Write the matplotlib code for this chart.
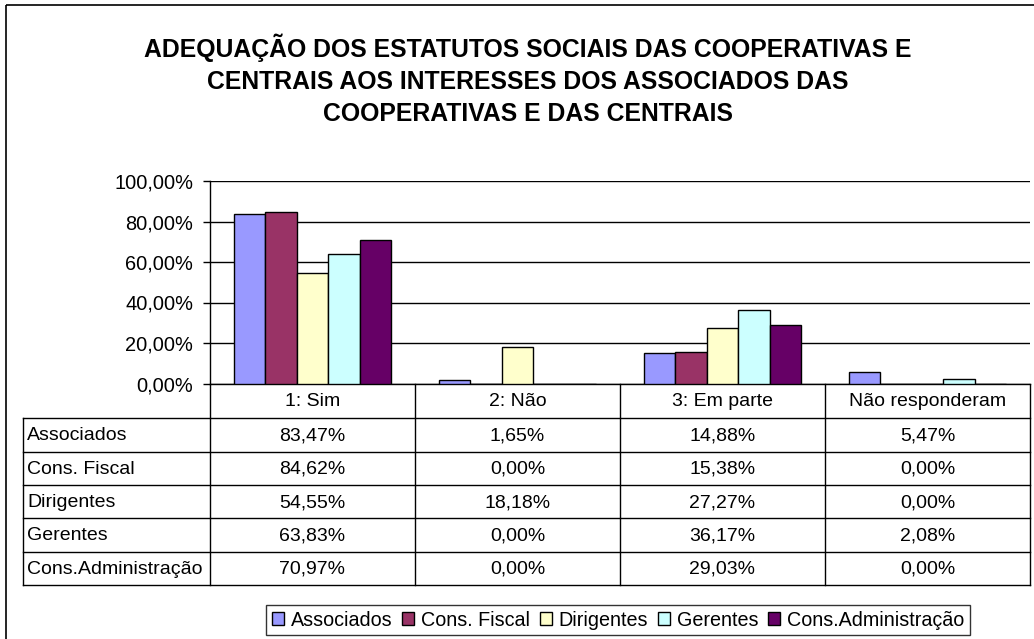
import numpy as np
import matplotlib
matplotlib.use("Agg")
import matplotlib.pyplot as plt
from matplotlib.ticker import FuncFormatter

plt.rcParams['font.family'] = ['Liberation Sans', 'DejaVu Sans']

title = ("ADEQUAÇÃO DOS ESTATUTOS SOCIAIS DAS COOPERATIVAS E\n"
         "CENTRAIS AOS INTERESSES DOS ASSOCIADOS DAS\n"
         "COOPERATIVAS E DAS CENTRAIS")
categories = ["1: Sim", "2: Não", "3: Em parte", "Não responderam"]
series_names = ["Associados", "Cons. Fiscal", "Dirigentes", "Gerentes", "Cons.Administração"]
associados = [83.47, 1.65, 14.88, 5.47]
cons_fiscal = [84.62, 0.00, 15.38, 0.00]
dirigentes = [54.55, 18.18, 27.27, 0.00]
gerentes = [63.83, 0.00, 36.17, 2.08]
cons_admin = [70.97, 0.00, 29.03, 0.00]
series_values = [associados, cons_fiscal, dirigentes, gerentes, cons_admin]
colors = ["#9999FF", "#993366", "#FFFFCC", "#CCFFFF", "#660066"]
yticks = [0, 20, 40, 60, 80, 100]

W, H = 1034, 639
def fx(x): return x / W
def fy(y): return 1 - y / H

def pct(v):
    return f"{v:.2f}%".replace('.', ',')

fig = plt.figure(figsize=(W / 100, H / 100), dpi=100)

# overlay axes in pixel coordinates for border and table
ov = fig.add_axes([0, 0, 1, 1])
ov.set_xlim(0, W)
ov.set_ylim(H, 0)
ov.axis('off')
ov.add_patch(plt.Rectangle((6, 5), W + 20, H + 20, fill=False, edgecolor='black', lw=1.2))

# plot area
x0, x1, ytop, ybot = 210, 1030, 181, 383.5
ax = fig.add_axes([fx(x0), fy(ybot), fx(x1) - fx(x0), fy(ytop) - fy(ybot)])
ax.patch.set_alpha(0)
n = len(series_names)
w = 1 / 6.5
xs = np.arange(len(categories))
handles = []
for i, (name, vals, c) in enumerate(zip(series_names, series_values, colors)):
    b = ax.bar(xs + (i - (n - 1) / 2) * w, vals, w, color=c, edgecolor='black',
               linewidth=1, label=name, zorder=3)
    handles.append(b)
ax.set_xlim(-0.5, len(categories) - 0.5)
ax.set_ylim(0, 100)
ax.set_yticks(yticks)
ax.yaxis.set_major_formatter(FuncFormatter(lambda v, p: pct(v)))
ax.set_xticks([])
ax.yaxis.grid(True, color='black', lw=1)
ax.set_axisbelow(True)
for s in ['top', 'right']:
    ax.spines[s].set_visible(False)
ax.spines['left'].set_linewidth(1)
ax.spines['bottom'].set_linewidth(1)
ax.tick_params(axis='y', direction='out', length=5, labelsize=14.4, pad=7, width=1)

# data table
cols = [x0, 415, 620, 825, 1030]
label_left = 23
hdr_top, hdr_bot = ybot, 418.3
row_h = 33.3
nrows = len(series_names)
tbl_bot = hdr_bot + nrows * row_h
lc = 'black'
lw = 1
ov.plot([label_left, label_left], [hdr_bot, tbl_bot], color=lc, lw=lw)
for cx in cols:
    ov.plot([cx, cx], [hdr_top, tbl_bot], color=lc, lw=lw)
for r in range(nrows + 1):
    yy = hdr_bot + r * row_h
    ov.plot([label_left, cols[-1]], [yy, yy], color=lc, lw=lw)
fs = 14
for j, cat in enumerate(categories):
    ov.text((cols[j] + cols[j + 1]) / 2, 401, cat,
            ha='center', va='center', fontsize=fs)
for r, (name, vals) in enumerate(zip(series_names, series_values)):
    yc = hdr_bot + (r + 0.5) * row_h + 1
    ov.text(label_left + 4, yc, name, ha='left', va='center', fontsize=fs)
    for j, v in enumerate(vals):
        ov.text((cols[j] + cols[j + 1]) / 2, yc, pct(v), ha='center', va='center', fontsize=fs)

# title
fig.text(fx(528), fy(80), title, ha='center', va='center', fontsize=17.8,
         fontweight='bold', linespacing=1.42)

# legend
leg = fig.legend(handles=handles, labels=series_names, loc='center',
                 bbox_to_anchor=(fx(618), fy(620)), ncol=5, frameon=True,
                 fancybox=False, edgecolor='black', fontsize=14.2,
                 handlelength=0.6, handleheight=0.6, handletextpad=0.35,
                 columnspacing=0.5, borderpad=0.3, borderaxespad=0)
leg.get_frame().set_linewidth(1)

fig.savefig("out.png", dpi=100)
